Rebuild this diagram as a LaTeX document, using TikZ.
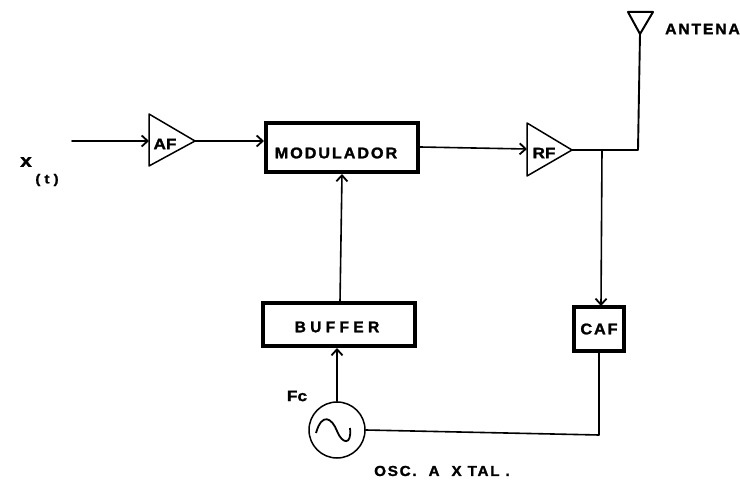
\documentclass[tikz,border=0pt]{standalone}
\usepackage{fontspec}
\newfontfamily\wide{Liberation Sans Bold}[LetterSpace=12,FakeBold=1.5,FakeStretch=1.05]
\newfontfamily\wider{Liberation Sans Bold}[LetterSpace=28,FakeBold=1.5]
\newfontfamily\heavy{Liberation Sans Bold}[FakeBold=1.5,FakeStretch=1.15]
\usetikzlibrary{arrows.meta,calc}
\tikzset{
  x=1pt,y=-1pt,
  wire/.style={line width=1.6pt,line cap=round,line join=round,black},
  arrow/.style={wire,-{Straight Barb[length=6pt,width=11pt,line width=1.8pt]}},
  block/.style={draw=black,line width=3.4pt,fill=white,inner sep=0pt},
  amp/.style={draw=black,line width=1.5pt,line join=round},
  amplab/.style={inner sep=0pt,font=\heavy\fontsize{15}{17}\selectfont},
}
\begin{document}
\begin{tikzpicture}
\useasboundingbox[fill=white] (0,0) rectangle (740,481);
% blocks
\node[block,minimum width=152pt,minimum height=49pt] (mod) at (342,147.5) {};
\node[inner sep=0pt,font=\wide\fontsize{15.5}{18}\selectfont] (modt) at (336,153) {MODULADOR};
\node[block,minimum width=152pt,minimum height=43pt] (buf) at (339,324.5) {};
\node[inner sep=0pt,font=\wider\fontsize{15.5}{18}\selectfont] (buft) at (337,327) {BUFFER};
\node[block,minimum width=50pt,minimum height=44pt,font=\wide\fontsize{15.5}{18}\selectfont] (caf) at (599,329) {CAF};
\node[draw=black,line width=1.5pt,circle,minimum size=56pt,inner sep=0pt] (osc) at (337,430) {};
\draw[line width=1.8pt] (316,433) .. controls (322,412) and (332,418) .. (337,431) .. controls (342,444) and (352,446) .. (350,428);
% amplifiers
\coordinate (aftop) at (149,114); \coordinate (afbot) at (149,166); \coordinate (aftip) at (195,141);
\coordinate (afin) at (149,141);
\draw[amp] (aftop) -- (aftip) -- (afbot) -- cycle;
\node[amplab] (aft) at (165,144) {AF};
\coordinate (rftop) at (527,123); \coordinate (rfbot) at (527,176); \coordinate (rftip) at (572,150);
\coordinate (rfin) at (527,149);
\draw[amp] (rftop) -- (rftip) -- (rfbot) -- cycle;
\node[amplab] (rft) at (544,153) {RF};
% antenna
\coordinate (antl) at (628,12); \coordinate (antr) at (653,12); \coordinate (anttip) at (640,34);
\draw[line width=2pt,line join=round] (antl) -- (antr) -- (anttip) -- cycle;
% connection points
\coordinate (xin) at (72,141);
\coordinate (modin) at (264,141);
\coordinate (modout) at (420,147);
\coordinate (modbot) at (342,174);
\coordinate (buftop) at (340,302);
\coordinate (bufbot) at (337,348);
\coordinate (corner) at (638,150);
\coordinate (junc) at (602,150);
\coordinate (caftop) at (601,306);
\coordinate (cafbot) at (599,352);
\coordinate (cafc) at (599,435);
% connectors
\draw[arrow] (xin) -- (afin);
\draw[arrow] (aftip) -- (modin);
\draw[arrow] (modout) -- (rfin);
\draw[wire,line width=1.9pt] (rftip) -- (corner) -- (anttip);
\draw[arrow] (junc) -- (caftop);
\draw[arrow] (buftop) -- (modbot);
\draw[arrow] (osc.north) -- (bufbot);
\draw[wire] (cafbot) -- (cafc) -- (osc.east);
% labels
\node[inner sep=0pt,font=\wide\fontsize{15}{17}\selectfont,anchor=east] (ant) at (740,29) {ANTENA};
\node[inner sep=0pt,font=\heavy\fontsize{15}{17}\selectfont] (fc) at (297,396) {Fc};
\node[inner sep=0pt,font=\wide\fontsize{14.5}{17}\selectfont] (osct) at (442,471) {OSC.\ \ A \ X TAL .};
\node[inner sep=0pt,font=\heavy\fontsize{18}{20}\selectfont] (x) at (26,162) {x};
\node[inner sep=0pt,font=\heavy\fontsize{13}{15}\selectfont] (t) at (47,180) {( t )};
\end{tikzpicture}
\end{document}
